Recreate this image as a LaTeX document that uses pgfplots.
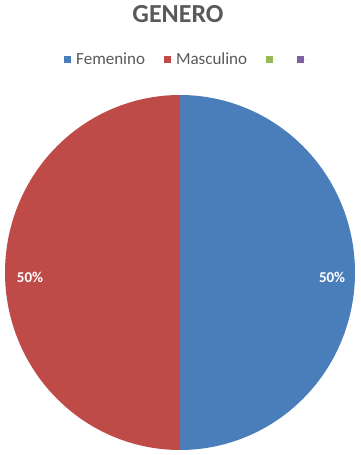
\documentclass[border=0pt]{standalone}
\usepackage{pgfplots}
\pgfplotsset{compat=1.18}
\usepackage{pgfplotstable}
\usepackage{fontspec}
\setmainfont{Carlito}
\definecolor{pieblue}{HTML}{4A7EBB}
\definecolor{piered}{HTML}{BE4B48}
\definecolor{piegreen}{HTML}{98B954}
\definecolor{piepurple}{HTML}{7D60A0}
\definecolor{txtgray}{HTML}{595959}
\pgfplotstableread{
cat value
Femenino 50
Masculino 50
}\piedata
\begin{document}
\begin{tikzpicture}
\path (0pt,0pt) rectangle (360pt,455pt);
\pgfplotstablegetelem{0}{value}\of\piedata \let\va\pgfplotsretval
\pgfplotstablegetelem{1}{value}\of\piedata \let\vb\pgfplotsretval
\pgfmathsetmacro{\total}{\va+\vb}
\pgfmathsetmacro{\fa}{\va/\total}
\pgfmathsetmacro{\fb}{\vb/\total}
\pgfmathsetmacro{\aA}{90}
\pgfmathsetmacro{\aB}{90-360*\fa}
\pgfmathsetmacro{\aC}{\aB-360*\fb}
\node[font=\bfseries\fontsize{26}{30}\selectfont, text=txtgray] at (178pt,441pt) {GENERO};
\begin{axis}[at={(180pt,182.5pt)}, anchor=center, scale only axis,
  width=350pt, height=355pt, xmin=-1, xmax=1, ymin=-1, ymax=1,
  hide axis, clip=false,
  legend columns=-1,
  legend style={at={(0.522,1.101)}, anchor=center, draw=none, fill=none,
    font=\fontsize{17}{20}\selectfont, text=txtgray,
    /tikz/every even column/.append style={column sep=17pt}},
  legend image code/.code={\fill[#1] (0pt,-3.5pt) rectangle (7pt,3.5pt); \path (0pt,0pt) -- (10pt,0pt);},
]
\addplot[fill=pieblue, draw=none, domain=\aB:\aA, samples=181] ({cos(x)},{sin(x)}) -- (axis cs:0,0) -- cycle;
\addlegendentry{Femenino}
\addplot[fill=piered, draw=none, domain=\aC:\aB, samples=181] ({cos(x)},{sin(x)}) -- (axis cs:0,0) -- cycle;
\addlegendentry{Masculino}
\addlegendimage{fill=piegreen, draw=none}
\addlegendentry{\mbox{}}
\addlegendimage{fill=piepurple, draw=none}
\addlegendentry{\mbox{}}
\node[text=white, font=\bfseries\fontsize{15}{18}\selectfont] at (axis cs:-0.857,-0.025) {50\%};
\node[text=white, font=\bfseries\fontsize{15}{18}\selectfont] at (axis cs:0.869,-0.025) {50\%};
\end{axis}
\end{tikzpicture}
\end{document}
